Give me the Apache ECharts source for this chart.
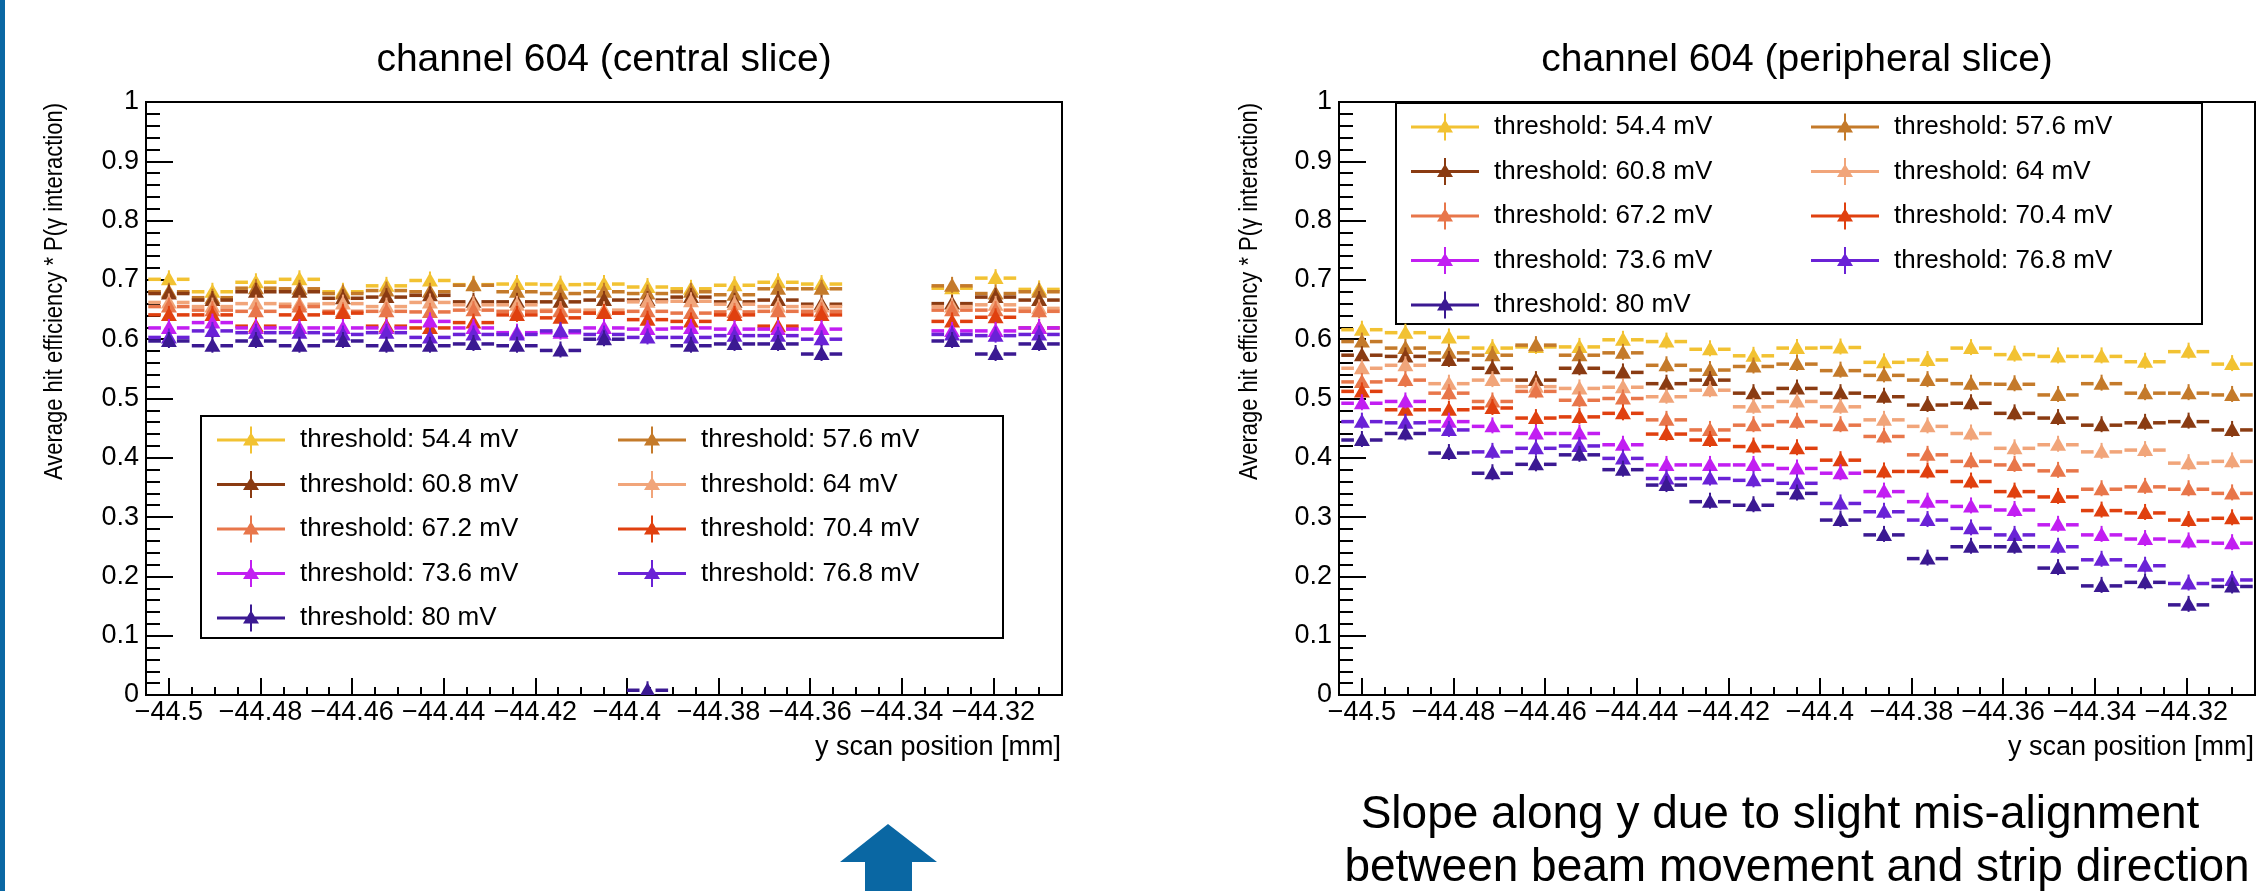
<!DOCTYPE html>
<html><head><meta charset="utf-8">
<script src="https://cdn.jsdelivr.net/npm/echarts@6/dist/echarts.min.js"></script>
<style>html,body{margin:0;padding:0;background:#fff}#c{width:2266px;height:891px}</style>
</head><body><div id="c"></div>
<script>
// ---- data ----
const yScanPos = [-44.5,-44.4905,-44.481,-44.4715,-44.462,-44.4525,-44.443,-44.4335,-44.424,-44.4145,-44.405,-44.3955,-44.386,-44.3765,-44.367,-44.3575,-44.348,-44.3385,-44.329,-44.3195,-44.31];
const thresholds = ['threshold: 54.4 mV','threshold: 57.6 mV','threshold: 60.8 mV','threshold: 64 mV','threshold: 67.2 mV','threshold: 70.4 mV','threshold: 73.6 mV','threshold: 76.8 mV','threshold: 80 mV'];
const tickValues = [-44.5,-44.48,-44.46,-44.44,-44.42,-44.4,-44.38,-44.36,-44.34,-44.32];
const tickLabels = ['\u221244.5','\u221244.48','\u221244.46','\u221244.44','\u221244.42','\u221244.4','\u221244.38','\u221244.36','\u221244.34','\u221244.32'];

// central slice
const c544 = [0.701,0.680,0.696,0.701,0.680,0.690,0.699,0.692,0.693,0.692,0.693,0.688,0.685,0.691,0.696,0.693,null,null,0.686,0.703,0.684];
const c576 = [0.680,0.670,0.686,0.685,0.677,0.682,0.680,0.691,0.680,0.677,0.680,0.677,0.680,0.675,0.685,0.685,null,null,0.690,0.677,0.680];
const c608 = [0.677,0.666,0.680,0.680,0.669,0.671,0.674,0.663,0.663,0.663,0.666,0.666,0.671,0.663,0.666,0.659,null,null,0.660,0.671,0.666];
const c640 = [0.662,0.655,0.660,0.659,0.660,0.655,0.662,0.658,0.658,0.649,0.649,0.663,0.664,0.659,0.655,0.655,null,null,0.655,0.658,0.652];
const c672 = [0.655,0.649,0.647,0.655,0.647,0.647,0.646,0.649,0.647,0.647,0.644,0.647,0.644,0.646,0.647,0.647,null,null,0.649,0.649,0.647];
const c704 = [0.641,0.641,0.622,0.641,0.644,0.622,0.619,0.628,0.641,0.636,0.644,0.633,0.630,0.641,0.622,0.641,null,null,0.630,0.637,0.619];
const c736 = [0.619,0.628,0.619,0.619,0.619,0.619,0.630,0.619,0.611,0.611,0.619,0.617,0.619,0.617,0.617,0.617,null,null,0.614,0.614,0.619];
const c768 = [0.603,0.614,0.611,0.611,0.608,0.611,0.603,0.608,0.608,0.614,0.608,0.603,0.603,0.606,0.606,0.600,null,null,0.608,0.606,0.608];
const c800 = [0.597,0.589,0.597,0.589,0.597,0.589,0.589,0.592,0.589,0.581,0.600,0.008,0.589,0.592,0.592,0.575,null,null,0.597,0.575,0.592];

// peripheral slice
const p544 = [0.616,0.611,0.603,0.585,0.587,0.587,0.599,0.596,0.583,0.572,0.585,0.586,0.561,0.565,0.585,0.574,0.571,0.571,0.562,0.579,0.558];
const p576 = [0.596,0.585,0.577,0.573,0.590,0.573,0.577,0.556,0.548,0.554,0.558,0.547,0.539,0.531,0.525,0.524,0.506,0.525,0.509,0.509,0.506];
const p608 = [0.573,0.571,0.565,0.551,0.531,0.551,0.544,0.525,0.531,0.509,0.517,0.509,0.503,0.489,0.492,0.475,0.467,0.455,0.459,0.461,0.447];
const p640 = [0.551,0.556,0.525,0.531,0.520,0.517,0.519,0.503,0.514,0.486,0.495,0.486,0.464,0.453,0.441,0.416,0.422,0.410,0.413,0.391,0.394];
const p672 = [0.528,0.531,0.509,0.495,0.512,0.497,0.500,0.464,0.447,0.455,0.461,0.455,0.436,0.405,0.394,0.388,0.378,0.347,0.351,0.347,0.340];
const p704 = [0.512,0.481,0.481,0.484,0.467,0.469,0.475,0.440,0.430,0.419,0.416,0.396,0.377,0.377,0.360,0.343,0.334,0.311,0.307,0.295,0.298];
const p736 = [0.492,0.495,0.461,0.453,0.441,0.441,0.422,0.388,0.388,0.388,0.382,0.374,0.343,0.326,0.318,0.312,0.287,0.270,0.263,0.259,0.256];
const p768 = [0.461,0.459,0.447,0.410,0.416,0.420,0.399,0.365,0.365,0.362,0.357,0.323,0.309,0.295,0.281,0.270,0.250,0.228,0.218,0.188,0.194];
const p800 = [0.430,0.441,0.408,0.374,0.389,0.405,0.380,0.354,0.326,0.320,0.340,0.295,0.270,0.230,0.250,0.250,0.214,0.184,0.190,0.152,0.183];

const centralSeries = [c544,c576,c608,c640,c672,c704,c736,c768,c800];
const peripheralSeries = [p544,p576,p608,p640,p672,p704,p736,p768,p800];

// ---- style ----
const colors = ['#f2c232','#c47a2a','#8a3b12','#f1a57a','#e8764a','#e0400f','#c21ef2','#6a22d6','#3b1992'];
const FONT = '"Liberation Sans", Arial, Helvetica, sans-serif';
const XERR = 0.0045;
const minorTicks = [];
for (let k = -8900; k <= -8862; k++) { if (k % 4 !== 0) minorTicks.push(k * 0.005); }

function renderPoint(params, api) {
  const x = api.value(0), y = api.value(1);
  const p = api.coord([x, y]);
  const l = api.coord([x - XERR, y]);
  const r = api.coord([x + XERR, y]);
  const color = api.visual('color');
  const g = 8;
  return {type:'group', children:[
    {type:'line', shape:{x1:l[0], y1:p[1], x2:p[0]-g, y2:p[1]}, style:{stroke:color, lineWidth:3.5}},
    {type:'line', shape:{x1:p[0]+g, y1:p[1], x2:r[0], y2:p[1]}, style:{stroke:color, lineWidth:3.5}},
    {type:'line', shape:{x1:p[0], y1:p[1]-9, x2:p[0], y2:p[1]+7}, style:{stroke:color, lineWidth:2}},
    {type:'polygon', shape:{points:[[p[0]-8,p[1]+6],[p[0]+8,p[1]+6],[p[0],p[1]-8]]}, style:{fill:color}}
  ]};
}

function buildSeries(valuesList, xi, yi) {
  return valuesList.map((vals, s) => ({
    type:'custom', name:thresholds[s], xAxisIndex:xi, yAxisIndex:yi, clip:true,
    itemStyle:{color:colors[s]},
    data: yScanPos.map((x, i) => [x, vals[i]]).filter(d => d[1] !== null),
    renderItem: renderPoint
  }));
}

function xAxes(gi) {
  return [{
    gridIndex:gi, type:'value', min:-44.505, max:-44.305, position:'bottom',
    axisLine:{show:true, onZero:false, lineStyle:{color:'#000', width:2}},
    axisTick:{show:true, inside:true, length:17, customValues:tickValues, lineStyle:{color:'#000', width:2}},
    axisLabel:{show:true, customValues:tickValues, color:'#000', fontSize:27, fontFamily:FONT, margin:4,
      formatter:v => { const i = tickValues.findIndex(t => Math.abs(t - v) < 1e-6); return i >= 0 ? tickLabels[i] : ''; }},
    splitLine:{show:false}
  },{
    gridIndex:gi, type:'value', min:-44.505, max:-44.305, position:'bottom',
    axisLine:{show:false, onZero:false},
    axisTick:{show:true, inside:true, length:8, customValues:minorTicks, lineStyle:{color:'#000', width:2}},
    axisLabel:{show:false}, splitLine:{show:false}
  }];
}
function yAxis(gi) {
  return {
    gridIndex:gi, type:'value', min:0, max:1, interval:0.1,
    axisLine:{show:true, lineStyle:{color:'#000', width:2}},
    axisTick:{show:true, inside:true, length:27, lineStyle:{color:'#000', width:2}},
    minorTick:{show:true, splitNumber:5, length:14, lineStyle:{color:'#000', width:2}},
    axisLabel:{color:'#000', fontSize:27, fontFamily:FONT, margin:7},
    splitLine:{show:false}, minorSplitLine:{show:false}
  };
}

const ICON = 'path://M0 12H68V15H0Z M33 0H35V27H33Z M26 19L34 6L42 19Z';
const col1 = [0,2,4,6,8].map(i => thresholds[i]);
const col2 = [1,3,5,7].map(i => thresholds[i]);
function legend(names, left, top) {
  return {
    left:left, top:top, orient:'vertical', data:names, selectedMode:false,
    icon:ICON, itemWidth:68, itemHeight:27, itemGap:17.5, padding:0,
    formatter: name => '{t|' + name + '}',
    textStyle:{color:'#000', fontSize:26, fontFamily:FONT,
      rich:{t:{padding:[0,0,0,10], color:'#000', fontSize:26, fontFamily:FONT}}}
  };
}

const chart = echarts.init(document.getElementById('c'), null, {renderer:'canvas'});
chart.setOption({
  animation:false,
  backgroundColor:'#fff',
  grid:[
    {left:146, top:102, width:916, height:593, show:true, borderColor:'#000', borderWidth:2, backgroundColor:'transparent'},
    {left:1339, top:102, width:916, height:593, show:true, borderColor:'#000', borderWidth:2, backgroundColor:'transparent'}
  ],
  xAxis:[...xAxes(0), ...xAxes(1)],
  yAxis:[yAxis(0), yAxis(1)],
  legend:[legend(col1, 217, 426.5), legend(col2, 618, 426.5), legend(col1, 1411, 113.5), legend(col2, 1811, 113.5)],
  series:[...buildSeries(centralSeries, 0, 0), ...buildSeries(peripheralSeries, 2, 1)],
  graphic:[
    {type:'rect', x:0, y:0, shape:{width:5, height:891}, style:{fill:'#0a67a3'}},
    {type:'polygon', shape:{points:[[840,862],[888,824],[937,862],[912,862],[912,891],[865,891],[865,862]]}, style:{fill:'#0a67a3'}},
    {type:'rect', x:201, y:416, shape:{width:802, height:222}, style:{fill:'none', stroke:'#000', lineWidth:2}},
    {type:'rect', x:1396, y:103, shape:{width:806, height:221}, style:{fill:'none', stroke:'#000', lineWidth:2}},
    {type:'text', x:604, y:60, style:{text:'channel 604 (central slice)', font:'39px '+FONT, fill:'#000', align:'center', verticalAlign:'middle'}},
    {type:'text', x:1797, y:60, style:{text:'channel 604 (peripheral slice)', font:'39px '+FONT, fill:'#000', align:'center', verticalAlign:'middle'}},
    {type:'text', x:1061, y:748, style:{text:'y scan position [mm]', font:'27px '+FONT, fill:'#000', align:'right', verticalAlign:'middle'}},
    {type:'text', x:2254, y:748, style:{text:'y scan position [mm]', font:'27px '+FONT, fill:'#000', align:'right', verticalAlign:'middle'}},
    {type:'text', x:55, y:103, rotation:Math.PI/2, scaleY:1.15, style:{text:'Average hit efficiency * P(\u03b3 interaction)', font:'22px '+FONT, fill:'#000', align:'right', verticalAlign:'middle'}},
    {type:'text', x:1250, y:103, rotation:Math.PI/2, scaleY:1.15, style:{text:'Average hit efficiency * P(\u03b3 interaction)', font:'22px '+FONT, fill:'#000', align:'right', verticalAlign:'middle'}},
    {type:'text', x:1780, y:815, style:{text:'Slope along y due to slight mis-alignment', font:'46px '+FONT, fill:'#000', align:'center', verticalAlign:'middle'}},
    {type:'text', x:1797, y:868, style:{text:'between beam movement and strip direction', font:'46px '+FONT, fill:'#000', align:'center', verticalAlign:'middle'}}
  ]
});
</script></body></html>
